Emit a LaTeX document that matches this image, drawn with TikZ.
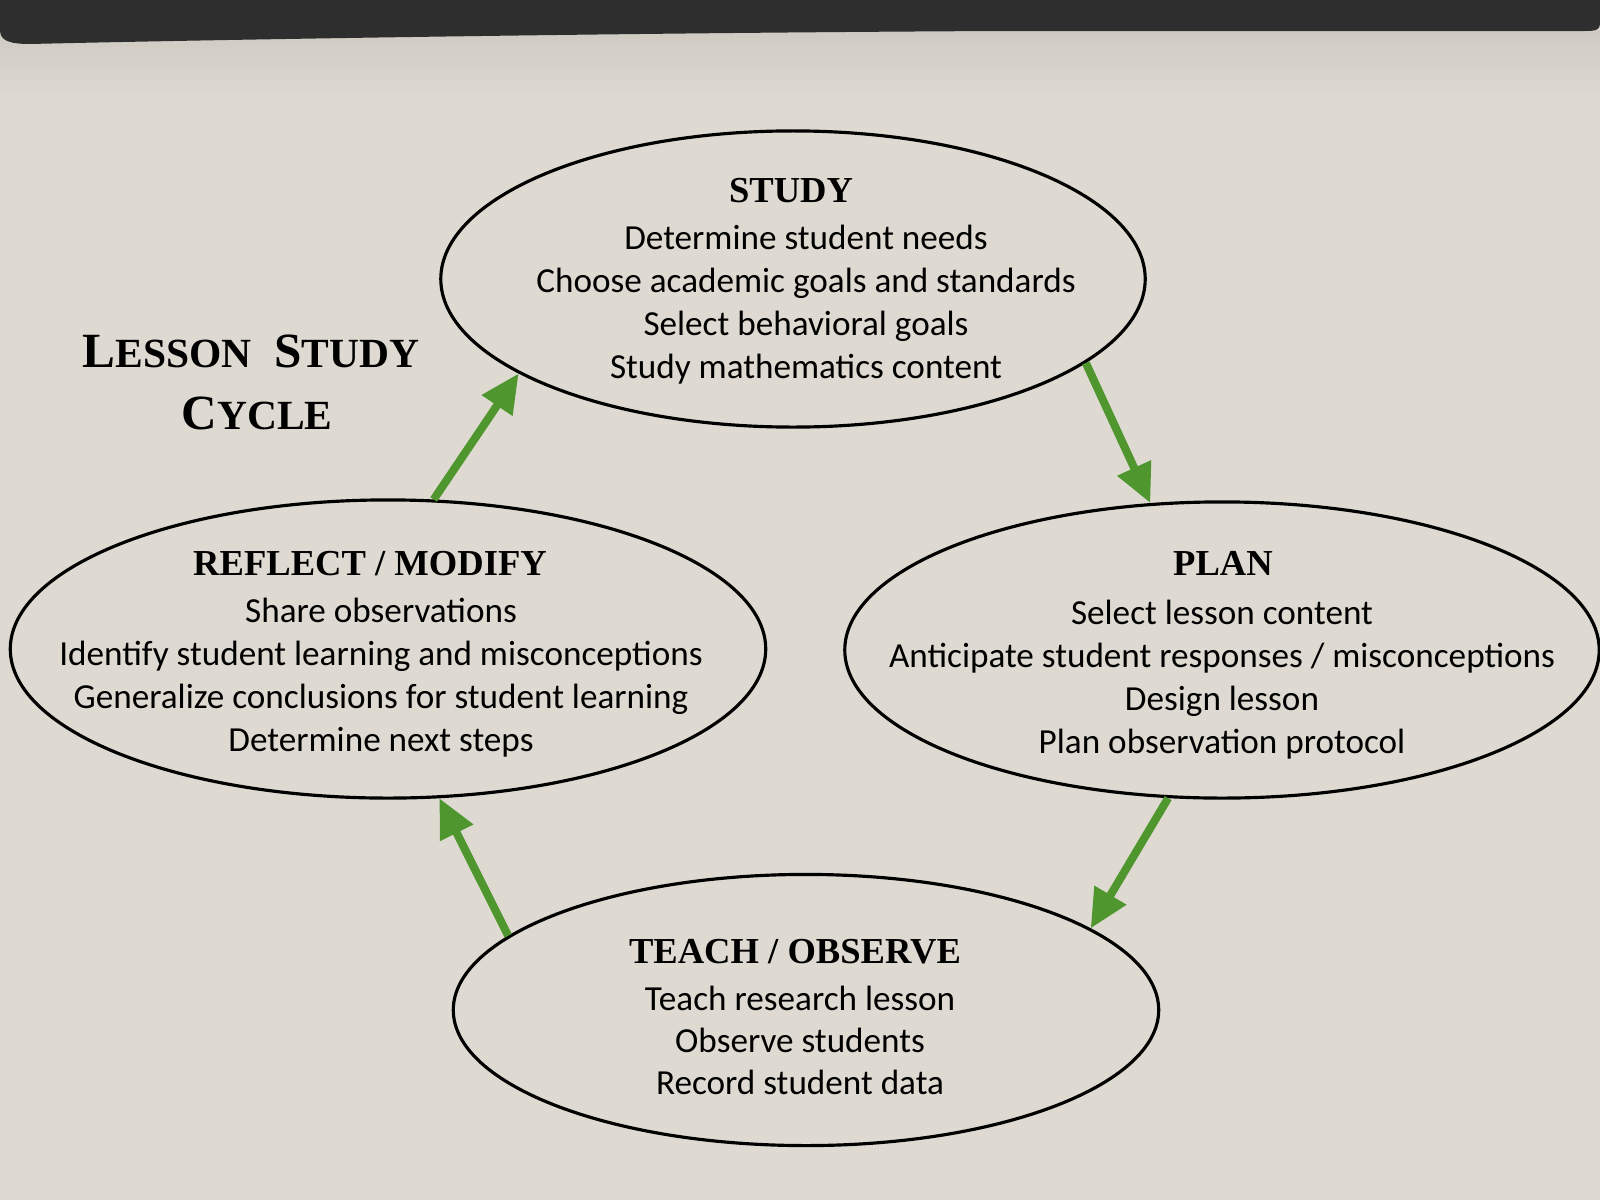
\documentclass[tikz,border=0pt]{standalone}
\usepackage{fontspec}
\setmainfont{Liberation Serif}
\newfontfamily\bodyfont{Carlito}
\usetikzlibrary{shapes.geometric,arrows.meta}
\definecolor{bg}{RGB}{222,218,209}
\definecolor{shade}{RGB}{207,203,194}
\definecolor{arrowgreen}{RGB}{78,150,45}
\definecolor{barcol}{RGB}{46,46,46}
\begin{document}
\begin{tikzpicture}[x=0.01cm,y=-0.01cm,
  ell/.style={ellipse, draw=black, line width=0.9pt, inner sep=0pt, fill=none},
  hd/.style={font=\fontsize{10.4}{12}\selectfont\bfseries, anchor=base, inner sep=0pt},
  bd/.style={font=\bodyfont\fontsize{10}{12}\selectfont, anchor=base, inner sep=0pt},
  flow/.style={draw=arrowgreen, line width=2.3pt, -{Triangle[length=11pt,width=10pt]}}]
% background
\fill[bg] (0,0) rectangle (1600,1200);
\useasboundingbox (0,0) rectangle (1600,1200);
\shade[top color=shade, bottom color=bg] (0,30) rectangle (1600,100);
\fill[barcol] (0,0) -- (1600,0) -- (1600,24) .. controls (1600,30) and (1595,31) .. (1585,31)
  -- (1000,31) .. controls (600,33) and (200,40) .. (30,44) .. controls (8,44) and (0,40) .. (0,30) -- cycle;

% title
\node[anchor=base, inner sep=0pt] (title1) at (251,367)
  {\bfseries{\fontsize{14}{16}\selectfont L}{\fontsize{11.8}{14}\selectfont ESSON}\hspace{6.5pt}{\fontsize{14}{16}\selectfont S}{\fontsize{11.8}{14}\selectfont TUDY}};
\node[anchor=base, inner sep=0pt] (title2) at (257,429)
  {\bfseries{\fontsize{14}{16}\selectfont C}{\fontsize{11.8}{14}\selectfont YCLE}};

% ellipses
\node[ell, minimum width=7.04cm, minimum height=2.96cm] (study) at (793,279) {};
\node[ell, minimum width=7.55cm, minimum height=2.98cm] (reflect) at (388,649) {};
\node[ell, minimum width=7.54cm, minimum height=2.96cm] (plan) at (1222,650) {};
\node[ell, minimum width=7.05cm, minimum height=2.71cm] (teach) at (806,1010) {};

% study text
\node[hd] (studyH) at (791,202) {STUDY};
\node[bd] (s1) at (806,249) {Determine student needs};
\node[bd] (s2) at (806,292) {Choose academic goals and standards};
\node[bd] (s3) at (806,335) {Select behavioral goals};
\node[bd] (s4) at (806,378) {Study mathematics content};

% reflect text
\node[hd] (reflectH) at (370,575) {REFLECT / MODIFY};
\node[bd] (r1) at (381,622) {Share observations};
\node[bd] (r2) at (381,665) {Identify student learning and misconceptions};
\node[bd] (r3) at (381,708) {Generalize conclusions for student learning};
\node[bd] (r4) at (381,751) {Determine next steps};

% plan text
\node[hd] (planH) at (1223,575) {PLAN};
\node[bd] (p1) at (1222,624) {Select lesson content};
\node[bd] (p2) at (1222,667) {Anticipate student responses / misconceptions};
\node[bd] (p3) at (1222,710) {Design lesson};
\node[bd] (p4) at (1222,753) {Plan observation protocol};

% teach text
\node[hd] (teachH) at (795,963) {TEACH / OBSERVE};
\node[bd] (t1) at (800,1010) {Teach research lesson};
\node[bd] (t2) at (800,1052) {Observe students};
\node[bd] (t3) at (800,1094) {Record student data};

% arrows
\draw[flow] (reflect.73) -- (study.199.5);
\draw[flow] (study.-16) -- (plan.116.6);
\draw[flow] (plan.250.4) -- (teach.16.7);
\draw[flow] (teach.166) -- (reflect.289.4);
\end{tikzpicture}
\end{document}
